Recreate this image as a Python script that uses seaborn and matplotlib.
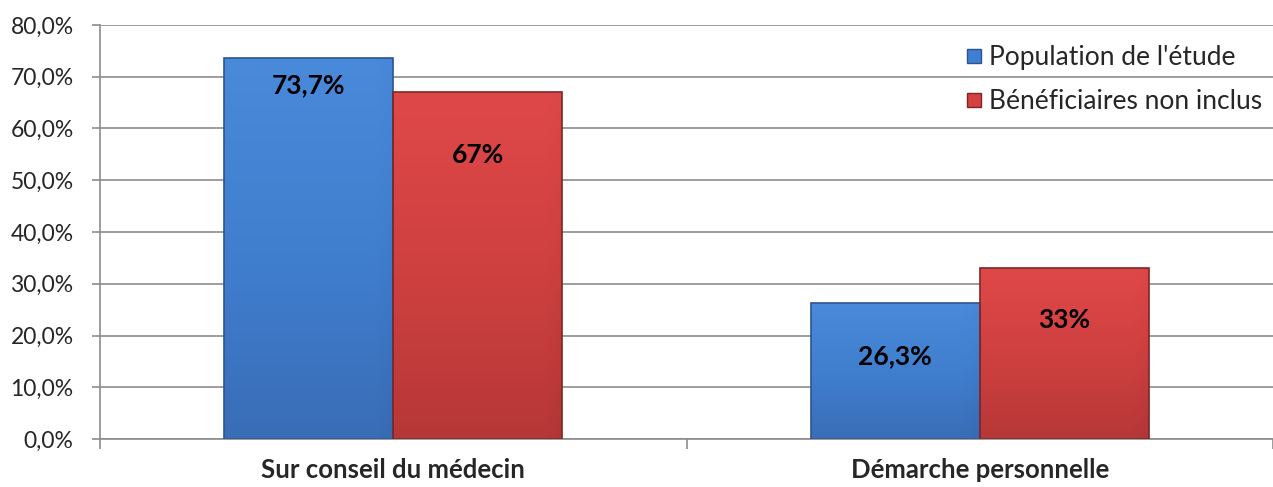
import numpy as np
import pandas as pd
import seaborn as sns
import matplotlib.pyplot as plt
from matplotlib.lines import Line2D
from matplotlib.colors import LinearSegmentedColormap

# data
categories = ['Sur conseil du médecin', 'Démarche personnelle']
groups = ["Population de l'étude", 'Bénéficiaires non inclus']
etude = [73.7, 26.3]
non_inclus = [67.0, 33.0]
labels_etude = ['73,7%', '26,3%']
labels_non_inclus = ['67%', '33%']

df = pd.DataFrame({
    'cat': categories * 2,
    'group': [groups[0]] * 2 + [groups[1]] * 2,
    'val': etude + non_inclus,
    'lab': labels_etude + labels_non_inclus,
})

sns.set_theme(style='white')
plt.rcParams['font.family'] = ['Lato', 'DejaVu Sans']

blue = '#3f7fd2'
red = '#d54040'
grid_col = '#8c8c8c'
fig = plt.figure(figsize=(12.73, 4.87), dpi=100)
ax = fig.add_axes([100 / 1273, 48 / 487, 1173 / 1273, 414 / 487])

sns.barplot(data=df, x='cat', y='val', hue='group', palette=[blue, red],
            width=0.576, gap=0, ax=ax, legend=False, saturation=1)

# gradient fill over each bar (excel-like bevel look)
grads = {
    0: LinearSegmentedColormap.from_list('b', ['#4a8ada', '#3f7ccc', '#3767ad']),
    1: LinearSegmentedColormap.from_list('r', ['#e04848', '#cc3f3f', '#ad3434']),
}
edges = {0: '#2d5390', 1: '#7e2626'}
patches = [p for p in ax.patches if p.get_height() > 0]
for i, p in enumerate(patches):
    g = i // 2
    x0, y0 = p.get_x(), p.get_y()
    w, h = p.get_width(), p.get_height()
    yy = np.linspace(0, 1, 200).reshape(-1, 1)
    xx = np.linspace(0, 1, 80).reshape(1, -1)
    z = yy * 0.85 + np.clip((xx - 0.9) * 3, 0, 1) * 0.3
    im = ax.imshow(z, cmap=grads[g], extent=[x0, x0 + w, y0, y0 + h],
                   aspect='auto', origin='upper', zorder=2.5, vmin=0, vmax=1)
    im.set_clip_path(p)
    p.set_edgecolor(edges[g])
    p.set_linewidth(1.2)
    p.set_zorder(2.6)
    p.set_facecolor('none')

# value labels inside the bars (offsets in points below bar top)
label_offsets = [-19.5, -38, -45, -37.5]
for i, p in enumerate(patches):
    ax.annotate(df['lab'][i], (p.get_x() + p.get_width() / 2, p.get_height()),
                xytext=(0, label_offsets[i]), textcoords='offset points',
                ha='center', va='center', fontsize=19, fontweight='bold',
                color='black', zorder=5)

ax.set_ylim(0, 80)
ax.set_xlim(-0.5, 1.5)
ticks = np.arange(0, 81, 10)
ax.set_yticks(ticks)
ax.set_yticklabels([f'{v:.1f}%'.replace('.', ',') for v in ticks], fontsize=16.5)
ax.yaxis.grid(True, color=grid_col, linewidth=1.2)
ax.set_axisbelow(True)
ax.set_xlabel('')
ax.set_ylabel('')
ax.set_xticks([0, 1])
ax.set_xticklabels(categories, fontsize=18.5, fontweight='bold')
ax.set_xticks([-0.5, 0.5, 1.5], minor=True)
ax.tick_params(axis='x', which='major', length=0, pad=14)
ax.tick_params(axis='x', which='minor', length=7, color=grid_col, width=1.2,
               direction='out', bottom=True)
ax.tick_params(axis='y', length=6, color=grid_col, width=1.2, direction='out',
               left=True, pad=13)
for s in ['top', 'right']:
    ax.spines[s].set_visible(False)
for s in ['left', 'bottom']:
    ax.spines[s].set_color(grid_col)
    ax.spines[s].set_linewidth(1.2)

handles = [Line2D([], [], marker='s', linestyle='', markersize=10,
                  markerfacecolor=c, markeredgecolor=e)
           for c, e in [(blue, edges[0]), (red, edges[1])]]
ax.legend(handles, groups, loc='upper right', bbox_to_anchor=(1.004, 0.99),
          frameon=False, fontsize=19, handletextpad=0.1, labelspacing=0.72,
          handlelength=0.9, borderaxespad=0.2)

fig.savefig('out.png', dpi=100)
